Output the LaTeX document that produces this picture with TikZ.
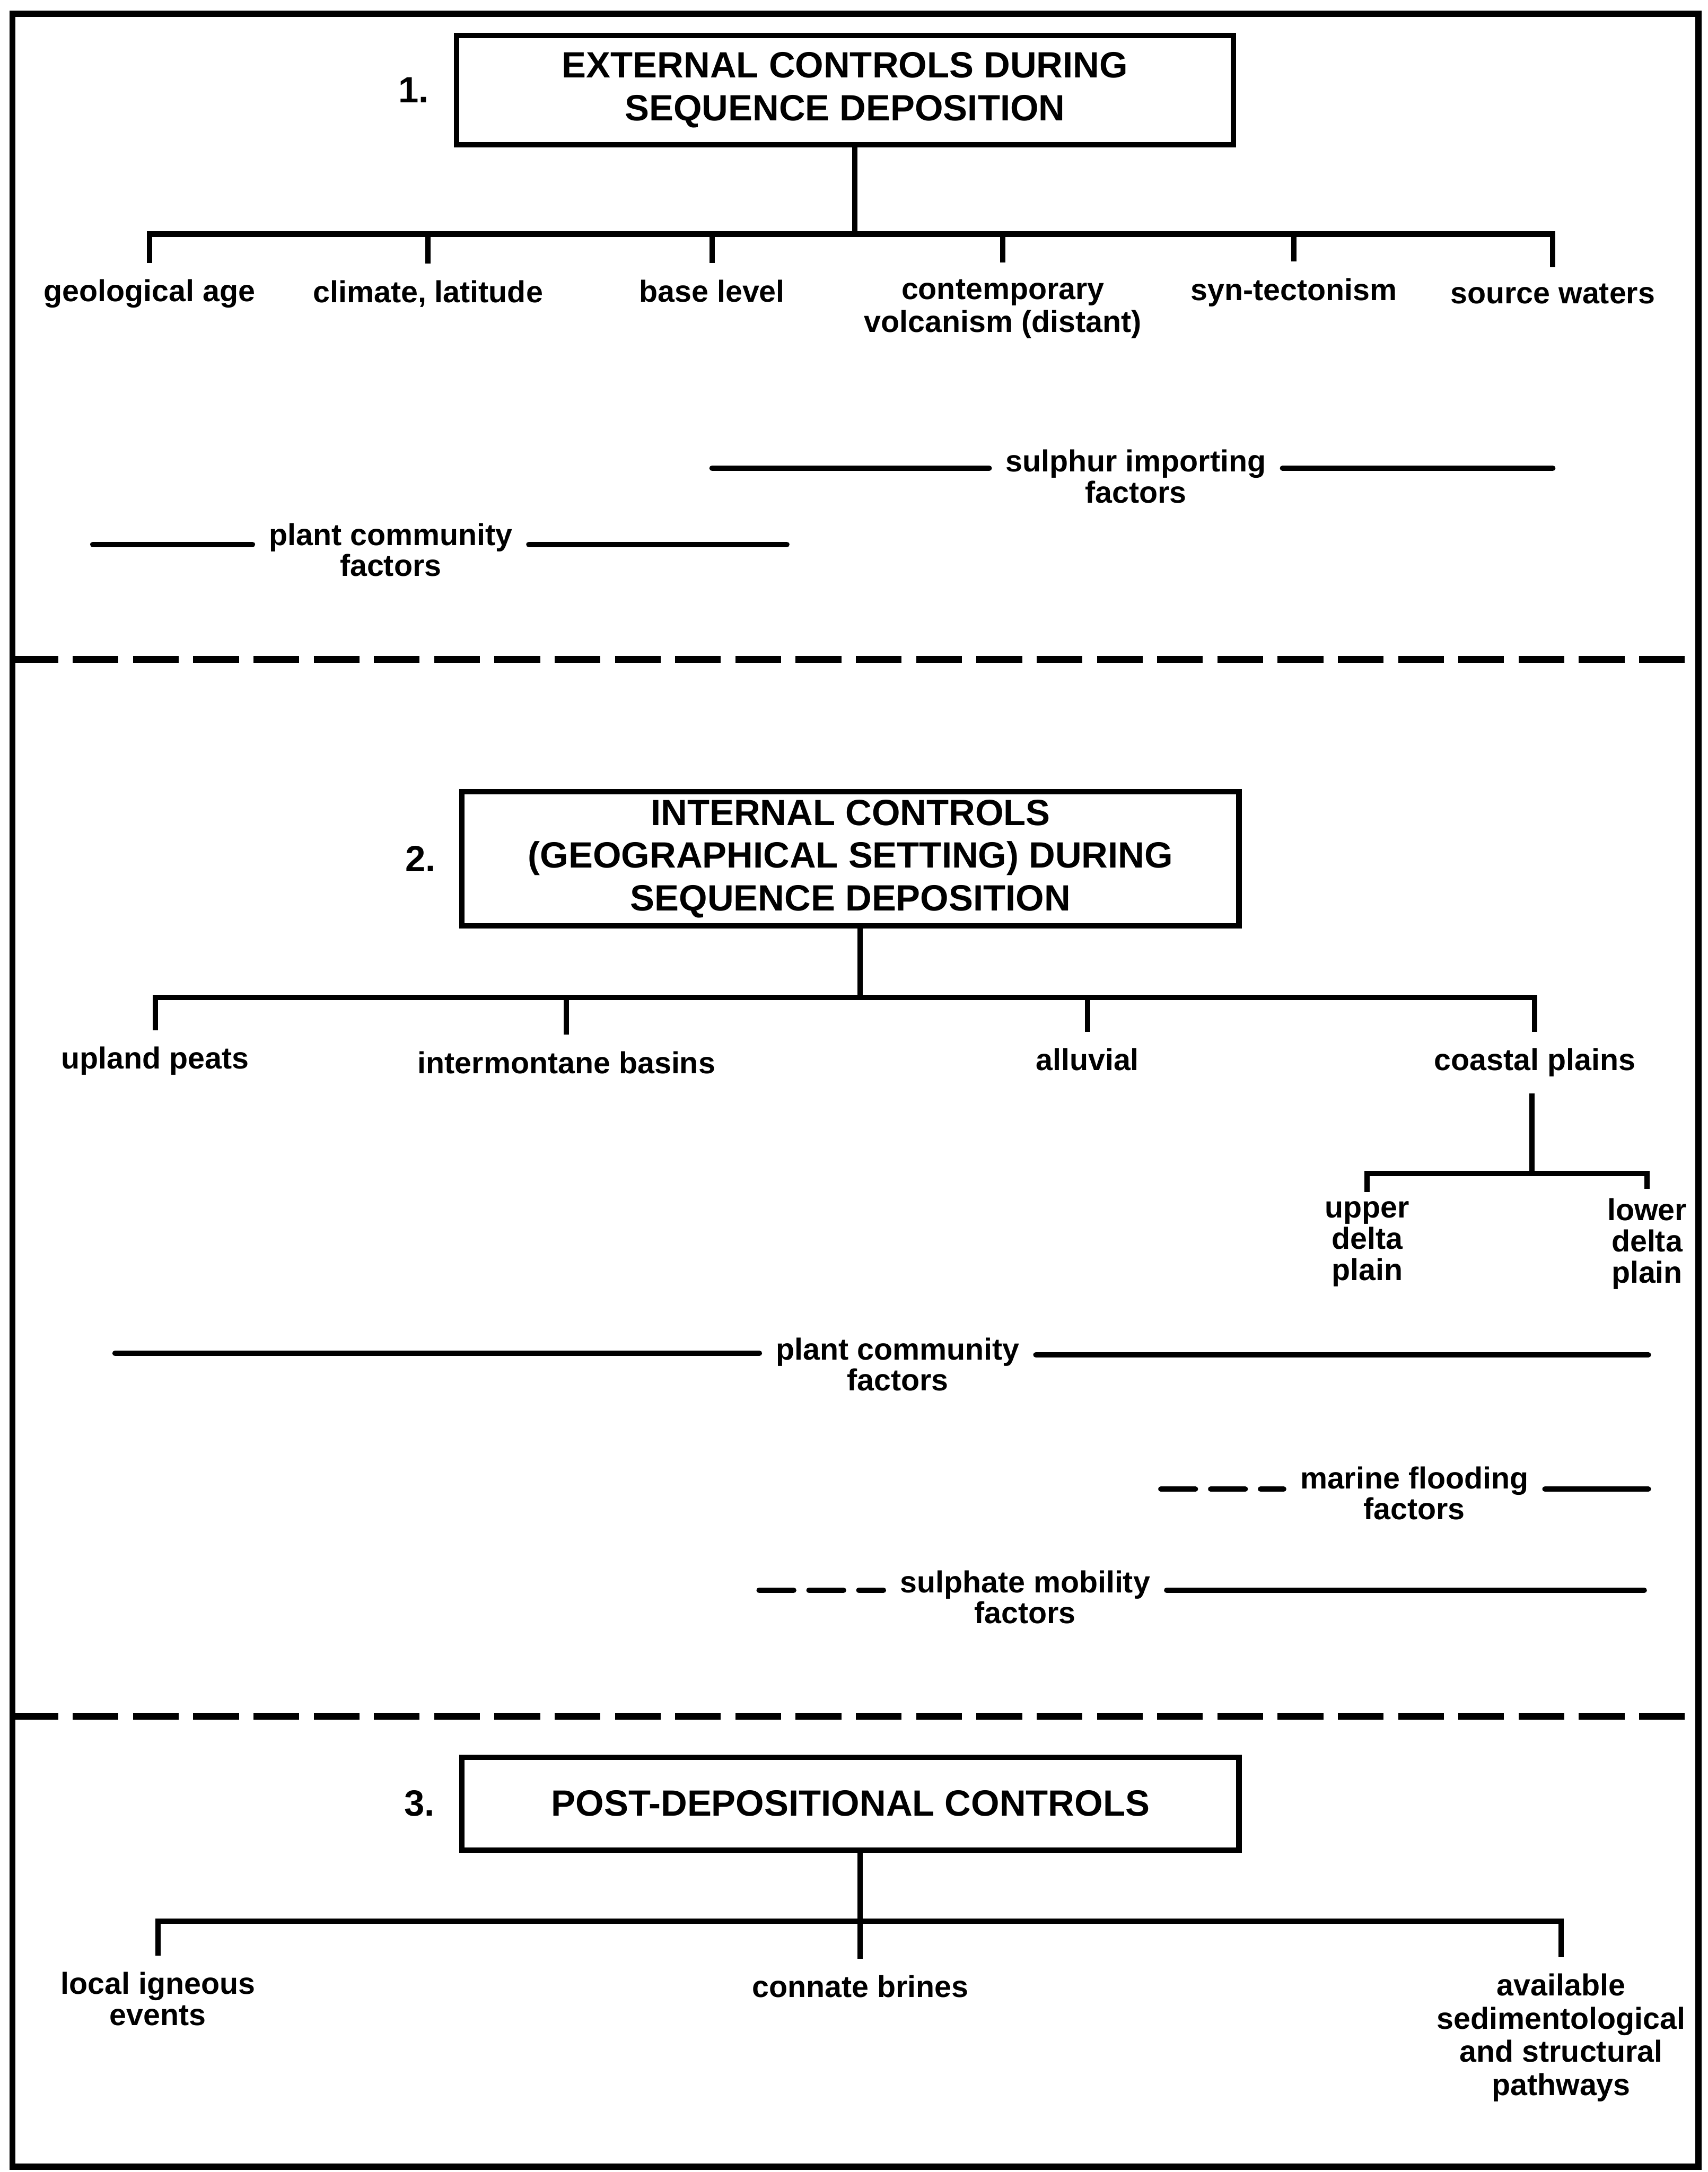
\documentclass[tikz,border=0pt]{standalone}
\usepackage{fontspec}
\setmainfont{Liberation Sans}
\usetikzlibrary{positioning}

\begin{document}
\begin{tikzpicture}[x=0.02cm, y=-0.02cm, line width=2.2pt,
    head/.style={draw, align=center, minimum width=11.22cm, font=\fontsize{15}{17.5}\selectfont\bfseries},
    num/.style={inner sep=0pt, font=\fontsize{15}{17.5}\selectfont\bfseries},
    lbl/.style={align=center, inner sep=0.2cm, font=\fontsize{12.5}{12.8}\selectfont\bfseries},
    lbltall/.style={lbl, font=\fontsize{12.5}{13.6}\selectfont\bfseries},
    divider/.style={line width=3pt, dash pattern=on 0.66cm off 0.21cm},
    facline/.style={line cap=round},
    dashfac/.style={line cap=round, dash pattern=on 0.5cm off 0.22cm}]
    \useasboundingbox (0,0) rectangle (1233,1568);
    \draw [line width=2.6pt] (9,10) rectangle (1226,1564);
    \draw [divider] (9,476) -- (1226,476);
    \draw [divider] (9,1239) -- (1226,1239);

    % 1. external controls
    \node [head, minimum height=1.58cm] (ext) at (610,65) {EXTERNAL CONTROLS DURING\\SEQUENCE DEPOSITION};
    \node [num] (n1) [left=0.32cm of ext] {1.};
    \coordinate (j1) at (617,169);
    \node [lbl] (geo) at (108,212) {geological age};
    \node [lbl] (clim) at (309,212) {climate, latitude};
    \node [lbl] (base) at (514,210) {base level};
    \node [lbltall] (volc) at (724,223) {contemporary\\volcanism (distant)};
    \node [lbl] (syn) at (934,211) {syn-tectonism};
    \node [lbl] (src) at (1121,212) {source waters};
    \draw (ext.south -| j1) -- (j1);
    \draw (j1) -| (geo.north) (j1) -| (clim.north) (j1) -| (base.north)
          (j1) -| (volc.north) (j1) -| (syn.north) (j1) -| (src.north);

    \coordinate (s1l) at (514,338);
    \coordinate (s1r) at (1121,338);
    \node [lbl] (sulf) at (820,344) {sulphur importing\\factors};
    \draw [facline] (s1l) -- (sulf.west |- s1l) (sulf.east |- s1r) -- (s1r);
    \coordinate (p1l) at (67,393);
    \coordinate (p1r) at (568,393);
    \node [lbl] (plant1) at (282,397) {plant community\\factors};
    \draw [facline] (p1l) -- (plant1.west |- p1l) (plant1.east |- p1r) -- (p1r);

    % 2. internal controls
    \node [head, minimum height=1.92cm] (int) at (614,620) {INTERNAL CONTROLS\\(GEOGRAPHICAL SETTING) DURING\\SEQUENCE DEPOSITION};
    \node [num] (n2) [left=0.3cm of int] {2.};
    \coordinate (j2) at (621,720);
    \node [lbl] (upl) at (112,766) {upland peats};
    \node [lbl] (intm) at (409,767) {intermontane basins};
    \node [lbl] (allu) at (785,765) {alluvial};
    \node [lbl] (coast) at (1108,767) {coastal plains};
    \draw (int.south -| j2) -- (j2);
    \draw (j2) -| (upl.north) (j2) -| (intm.north) (j2) -| (allu.north) (j2) -| (coast.north);
    \coordinate (j3) at (1106,847);
    \node [lbl, inner ysep=0.1cm] (upd) at (987,898) {upper\\delta\\plain};
    \node [lbl, inner ysep=0.1cm] (lowd) at (1189,898) {lower\\delta\\plain};
    \draw (coast.south -| j3) -- (j3);
    \draw (j3) -| (upd.north) (j3) -| (lowd.north);

    \coordinate (p2l) at (83,977);
    \coordinate (p2r) at (1190,978);
    \node [lbl] (plant2) at (648,985) {plant community\\factors};
    \draw [facline] (p2l) -- (plant2.west |- p2l) (plant2.east |- p2r) -- (p2r);
    \coordinate (m2l) at (838,1075);
    \coordinate (m2r) at (1190,1075);
    \node [lbl] (mar) at (1021,1078) {marine flooding\\factors};
    \draw [dashfac] (m2l) -- (mar.west |- m2l);
    \draw [facline] (mar.east |- m2r) -- (m2r);
    \coordinate (s2l) at (548,1148);
    \coordinate (s2r) at (1187,1148);
    \node [lbl] (sulm) at (740,1153) {sulphate mobility\\factors};
    \draw [dashfac] (s2l) -- (sulm.west |- s2l);
    \draw [facline] (sulm.east |- s2r) -- (s2r);

    % 3. post-depositional controls
    \node [head, minimum height=1.34cm] (post) at (614,1302) {POST-DEPOSITIONAL CONTROLS};
    \node [num] (n3) [left=0.32cm of post] {3.};
    \coordinate (j4) at (621,1387);
    \node [lbl] (ign) at (114,1443) {local igneous\\events};
    \node [lbl] (brine) at (621,1434) {connate brines};
    \node [lbltall] (pway) at (1127,1471) {available\\sedimentological\\and structural\\pathways};
    \draw (post.south -| j4) -- (j4);
    \draw (j4) -| (ign.north) (j4) -- (brine.north) (j4) -| (pway.north);
\end{tikzpicture}
\end{document}
